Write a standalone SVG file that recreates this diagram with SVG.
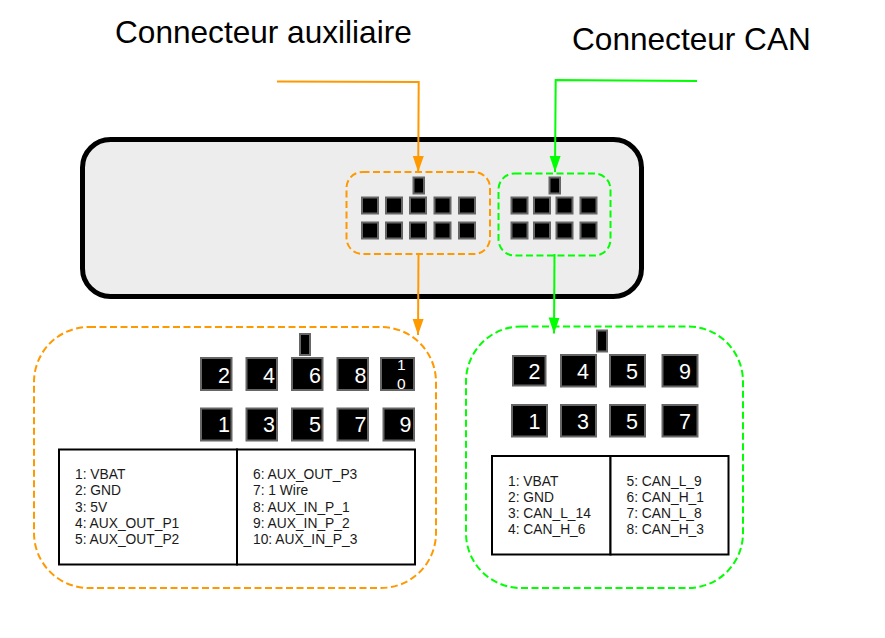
<svg xmlns="http://www.w3.org/2000/svg" width="885" height="638" viewBox="0 0 885 638">
<style>
text{font-family:"Liberation Sans",Arial,sans-serif}
.title{font-size:31.600px;fill:#000}
.pin{fill:#000;stroke:#666;stroke-width:2}
.d{font-size:21.500px;fill:#fff}
.s{font-size:15.500px;fill:#fff}
.t{font-size:13.800px;fill:#1a1a1a}
.box{fill:#fff;stroke:#000;stroke-width:2}
.o{fill:none;stroke:#ff9900;stroke-width:2;stroke-dasharray:7 3.500}
.g{fill:none;stroke:#00ff00;stroke-width:2;stroke-dasharray:7 3.500}
.co{fill:none;stroke:#ff9900;stroke-width:2}
.cg{fill:none;stroke:#00ff00;stroke-width:2}
</style>
<defs>
<marker id="ao" markerUnits="userSpaceOnUse" markerWidth="16" markerHeight="12" refX="16" refY="6" orient="auto" viewBox="0 0 16 12"><path d="M0 0.500L16 6L0 11.500Z" fill="#ff9900"/></marker>
<marker id="ag" markerUnits="userSpaceOnUse" markerWidth="16" markerHeight="12" refX="16" refY="6" orient="auto" viewBox="0 0 16 12"><path d="M0 0.500L16 6L0 11.500Z" fill="#00ff00"/></marker>
</defs>
<rect width="885" height="638" fill="#fff"/>
<g id="title-aux"><text class="title" x="115" y="43">Connecteur auxiliaire</text></g>
<g id="title-can"><text class="title" x="572" y="50">Connecteur CAN</text></g>
<g id="device"><rect x="82.500" y="139.500" width="559" height="157" rx="28" fill="#ededed" stroke="#000" stroke-width="5"/></g>
<g id="aux-socket">
<rect class="o" x="346.500" y="172" width="143.500" height="82" rx="16"/>
<rect class="pin" x="413.500" y="177.500" width="10.500" height="16"/>
<rect class="pin" x="362" y="197.500" width="16" height="16"/><rect class="pin" x="386" y="197.500" width="16" height="16"/><rect class="pin" x="410" y="197.500" width="16" height="16"/><rect class="pin" x="434.500" y="197.500" width="16" height="16"/><rect class="pin" x="459" y="197.500" width="16" height="16"/>
<rect class="pin" x="362" y="222.500" width="16" height="16"/><rect class="pin" x="386" y="222.500" width="16" height="16"/><rect class="pin" x="410" y="222.500" width="16" height="16"/><rect class="pin" x="434.500" y="222.500" width="16" height="16"/><rect class="pin" x="459" y="222.500" width="16" height="16"/>
</g>
<g id="can-socket">
<rect class="g" x="498.500" y="173.500" width="112" height="82" rx="16"/>
<rect class="pin" x="549.500" y="177.500" width="10.500" height="16"/>
<rect class="pin" x="511.500" y="197.500" width="16" height="16"/><rect class="pin" x="534" y="197.500" width="16" height="16"/><rect class="pin" x="556.500" y="197.500" width="16" height="16"/><rect class="pin" x="580.500" y="197.500" width="16" height="16"/>
<rect class="pin" x="511.500" y="222.500" width="16" height="16"/><rect class="pin" x="534" y="222.500" width="16" height="16"/><rect class="pin" x="556.500" y="222.500" width="16" height="16"/><rect class="pin" x="580.500" y="222.500" width="16" height="16"/>
</g>
<g id="aux-detail">
<rect class="o" x="34" y="327" width="402" height="261" rx="55"/>
<rect class="pin" x="300" y="334" width="10" height="21"/>
<rect class="pin" x="201" y="358" width="30.500" height="32"/><text class="d" x="218" y="382.500">2</text>
<rect class="pin" x="246.500" y="358" width="30.500" height="32"/><text class="d" x="263" y="382.500">4</text>
<rect class="pin" x="292" y="358" width="30.500" height="32"/><text class="d" x="309" y="382.500">6</text>
<rect class="pin" x="337.500" y="358" width="30.500" height="32"/><text class="d" x="354.500" y="382.500">8</text>
<rect class="pin" x="381" y="358" width="33" height="32"/><text class="s" x="397" y="370">1</text><text class="s" x="397" y="389">0</text>
<rect class="pin" x="201" y="408.500" width="30.500" height="32"/><text class="d" x="218" y="432">1</text>
<rect class="pin" x="246.500" y="408.500" width="30.500" height="32"/><text class="d" x="263" y="432">3</text>
<rect class="pin" x="292" y="408.500" width="30.500" height="32"/><text class="d" x="309" y="432">5</text>
<rect class="pin" x="337.500" y="408.500" width="30.500" height="32"/><text class="d" x="354.500" y="432">7</text>
<rect class="pin" x="383.500" y="408.500" width="30.500" height="32"/><text class="d" x="399.500" y="432">9</text>
<rect class="box" x="59" y="449.500" width="178" height="115"/><rect class="box" x="237" y="449.500" width="178" height="115"/>
<text class="t"><tspan x="75" y="479">1: VBAT</tspan><tspan x="75" y="495.300">2: GND</tspan><tspan x="75" y="511.600">3: 5V</tspan><tspan x="75" y="527.900">4: AUX_OUT_P1</tspan><tspan x="75" y="544.200">5: AUX_OUT_P2</tspan></text>
<text class="t"><tspan x="253" y="479">6: AUX_OUT_P3</tspan><tspan x="253" y="495.300">7: 1 Wire</tspan><tspan x="253" y="511.600">8: AUX_IN_P_1</tspan><tspan x="253" y="527.900">9: AUX_IN_P_2</tspan><tspan x="253" y="544.200">10: AUX_IN_P_3</tspan></text>
</g>
<g id="can-detail">
<rect class="g" x="466" y="326.500" width="277" height="261.500" rx="55"/>
<rect class="pin" x="597" y="330.500" width="10" height="21"/>
<rect class="pin" x="513" y="356" width="32.500" height="29.500"/><text class="d" x="528.500" y="378.500">2</text>
<rect class="pin" x="561" y="355" width="35" height="31.500"/><text class="d" x="577" y="378.500">4</text>
<rect class="pin" x="610" y="355" width="35" height="31.500"/><text class="d" x="626" y="378.500">5</text>
<rect class="pin" x="662.500" y="355" width="35" height="31.500"/><text class="d" x="679" y="378.500">9</text>
<rect class="pin" x="512" y="405" width="35" height="31.500"/><text class="d" x="528.500" y="428.500">1</text>
<rect class="pin" x="561" y="405" width="35" height="31.500"/><text class="d" x="577" y="428.500">3</text>
<rect class="pin" x="610" y="405" width="35" height="31.500"/><text class="d" x="626" y="428.500">5</text>
<rect class="pin" x="662.500" y="405" width="35" height="31.500"/><text class="d" x="679" y="428.500">7</text>
<rect class="box" x="492" y="456" width="118.500" height="98.500"/><rect class="box" x="610.500" y="456" width="118" height="98.500"/>
<text class="t"><tspan x="508" y="485.500">1: VBAT</tspan><tspan x="508" y="501.800">2: GND</tspan><tspan x="508" y="518.100">3: CAN_L_14</tspan><tspan x="508" y="534.400">4: CAN_H_6</tspan></text>
<text class="t"><tspan x="626.500" y="485.500">5: CAN_L_9</tspan><tspan x="626.500" y="501.800">6: CAN_H_1</tspan><tspan x="626.500" y="518.100">7: CAN_L_8</tspan><tspan x="626.500" y="534.400">8: CAN_H_3</tspan></text>
</g>
<g id="connectors">
<path class="co" d="M277 81.500L418.700 82L418.200 172" marker-end="url(#ao)"/>
<path class="cg" d="M697 81L555.700 80L555 172" marker-end="url(#ag)"/>
<path class="co" d="M418.500 254L418 335" marker-end="url(#ao)"/>
<path class="cg" d="M554.500 254L554 333.500" marker-end="url(#ag)"/>
</g>
</svg>
